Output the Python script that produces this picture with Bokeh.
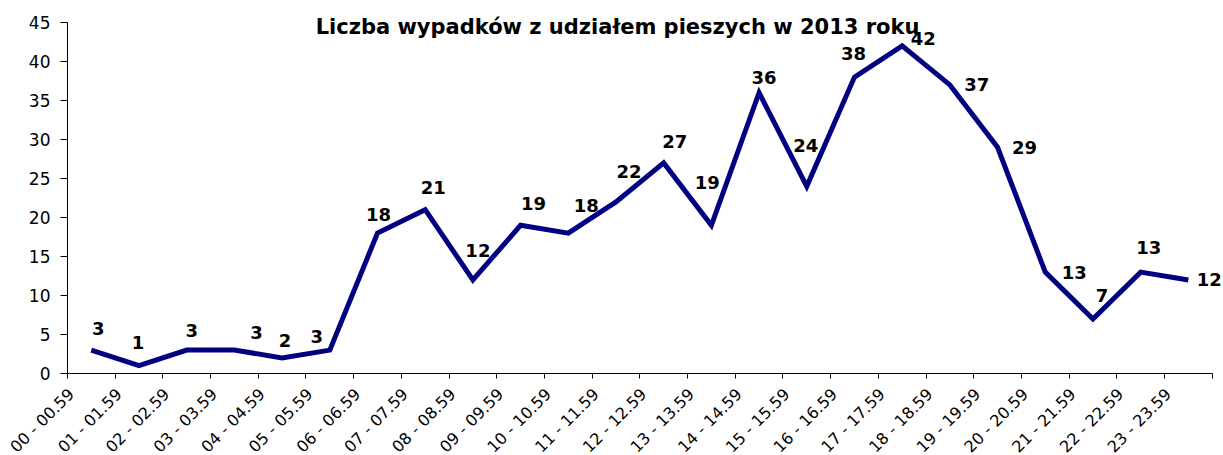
import math
from bokeh.plotting import figure
from bokeh.models import ColumnDataSource, LabelSet, Label, FixedTicker, Range1d
from bokeh.core.properties import value
from bokeh.embed import file_html
from bokeh.resources import INLINE

categories = ["00 - 00.59", "01 - 01.59", "02 - 02.59", "03 - 03.59", "04 - 04.59",
              "05 - 05.59", "06 - 06.59", "07 - 07.59", "08 - 08.59", "09 - 09.59",
              "10 - 10.59", "11 - 11.59", "12 - 12.59", "13 - 13.59", "14 - 14.59",
              "15 - 15.59", "16 - 16.59", "17 - 17.59", "18 - 18.59", "19 - 19.59",
              "20 - 20.59", "21 - 21.59", "22 - 22.59", "23 - 23.59"]
values = [3, 1, 3, 3, 2, 3, 18, 21, 12, 19, 18, 22, 27, 19, 36, 24, 38, 42, 37, 29, 13, 7, 13, 12]
y_ticks = [0, 5, 10, 15, 20, 25, 30, 35, 40, 45]
title_text = "Liczba wypadków z udziałem pieszych w 2013 roku"

# label placement offsets in screen pixels (style, not data)
label_dx = [7, -1, 5, 22, 3, -13, 1, 8, 5, 13, 18, 13, 11, -4, 5, -1, -1, 21, 27, 27, 29, 9, 8, 21]
label_dy = [-22, -23, -20, -18, -17, -14, -19, -22, -29, -22, -28, -30, -21, -43, -15, -41, -24, -7, 0, 0, 0, -23, -25, 0]

n = len(categories)
y_max = y_ticks[-1]
xs = [i + 0.5 for i in range(n)]

src = ColumnDataSource(dict(
    x=xs, y=values, txt=[str(v) for v in values],
    dx=label_dx, dy=[-d for d in label_dy],
))

# category label anchors (end of rotated text), near each category's left boundary
cat_src = ColumnDataSource(dict(x=[i + 0.08 for i in range(n)], y=[0] * n, txt=categories))

# the frame spans the whole canvas so that no text is clipped;
# both axes are drawn at fixed locations and limited with bounds
p = figure(width=1223, height=455, output_backend="svg", toolbar_location=None,
           x_range=Range1d(-1.404, n + 0.237), y_range=Range1d(-10.51, y_max + 2.82),
           min_border_left=0, min_border_right=0, min_border_top=0, min_border_bottom=0)
p.outline_line_color = None
p.xgrid.visible = False
p.ygrid.visible = False
p.background_fill_color = "white"
p.border_fill_color = "white"

p.line("x", "y", source=src, line_color="#000080", line_width=5, line_join="miter")

labels = LabelSet(x="x", y="y", text="txt", source=src, x_offset="dx", y_offset="dy",
                  text_align="center", text_baseline="middle",
                  text_font=value("DejaVu Sans"), text_font_style=value("bold"),
                  text_font_size=value("18px"), text_color=value("black"))
p.add_layout(labels)

cat_labels = LabelSet(x="x", y="y", text="txt", source=cat_src, y_offset=-18,
                      angle=math.pi / 4, text_align="right", text_baseline="middle",
                      text_font=value("DejaVu Sans"), text_font_size=value("16px"),
                      text_color=value("black"))
p.add_layout(cat_labels)

title = Label(x=n * 0.4805, y=44.36, text=title_text, text_align="center",
              text_baseline="alphabetic", text_font="DejaVu Sans",
              text_font_style="bold", text_font_size="21px", text_color="black")
p.add_layout(title)

# y axis
p.yaxis.fixed_location = 0
p.yaxis.ticker = FixedTicker(ticks=y_ticks)
p.yaxis.bounds = (0, y_max)
p.yaxis.minor_tick_line_color = None
p.yaxis.major_tick_in = 0
p.yaxis.major_tick_out = 7
p.yaxis.major_label_standoff = 10
p.yaxis.major_label_text_font = "DejaVu Sans"
p.yaxis.major_label_text_font_size = "17px"
p.yaxis.major_label_text_color = "black"
p.yaxis.axis_line_color = "black"
p.yaxis.major_tick_line_color = "black"

# x axis: line at y=0, tick marks at category boundaries
p.xaxis.fixed_location = 0
p.xaxis.bounds = (0, n)
p.xaxis.ticker = FixedTicker(ticks=list(range(n + 1)))
p.xaxis.major_label_overrides = {i: "" for i in range(n + 1)}
p.xaxis.major_label_text_font_size = "1px"
p.xaxis.major_label_standoff = 0
p.xaxis.minor_tick_line_color = None
p.xaxis.major_tick_in = 0
p.xaxis.major_tick_out = 5
p.xaxis.axis_line_color = "black"
p.xaxis.major_tick_line_color = "black"

open("out.html", "w").write(file_html(p, INLINE))
